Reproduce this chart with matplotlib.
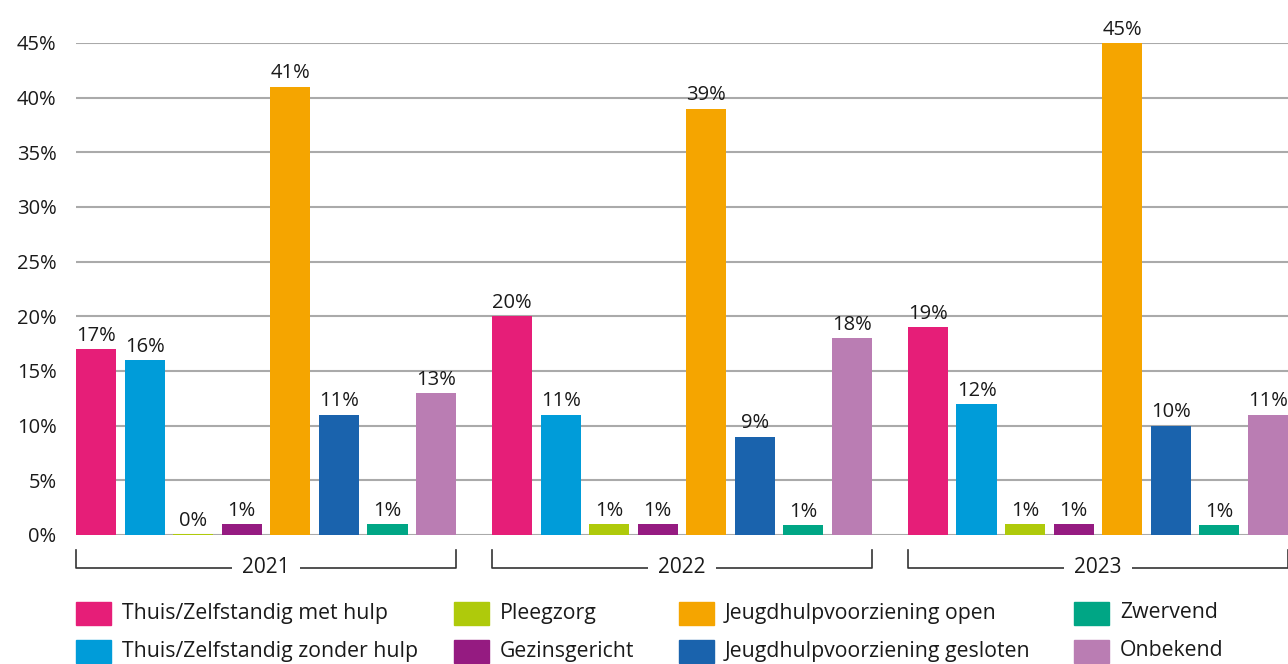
import matplotlib.pyplot as plt
from matplotlib.patches import Rectangle

plt.rcParams['font.family'] = ['Open Sans', 'DejaVu Sans']

years = ['2021', '2022', '2023']
categories = ['Thuis/Zelfstandig met hulp', 'Thuis/Zelfstandig zonder hulp', 'Pleegzorg',
              'Gezinsgericht', 'Jeugdhulpvoorziening open', 'Jeugdhulpvoorziening gesloten',
              'Zwervend', 'Onbekend']
colors = ['#E61E78', '#009CD9', '#AFCA0B', '#951B81', '#F5A500', '#1A63AD', '#00A685', '#BA7DB3']
values = {
    '2021': [17, 16, 0.1, 1, 41, 11, 1, 13],
    '2022': [20, 11, 1, 1, 39, 9, 0.9, 18],
    '2023': [19, 12, 1, 1, 45, 10, 0.9, 11],
}
yticks = [0, 5, 10, 15, 20, 25, 30, 35, 40, 45]

txt = '#1a1a1a'
fig = plt.figure(figsize=(12.88, 6.64), dpi=100)
ax = fig.add_axes([76 / 1288, 1 - 535 / 664, 1 - 76 / 1288, (535 - 43) / 664])

group_step = 8.57
bw = 0.83
for g, yr in enumerate(years):
    xs = [g * group_step + i for i in range(len(categories))]
    ax.bar(xs, values[yr], width=bw, color=colors, zorder=3)
    for x, v in zip(xs, values[yr]):
        ax.text(x, v + 0.3, f'{round(v)}%', ha='center', va='bottom', fontsize=14.5, color=txt)
    # bracket
    x0 = xs[0] - bw / 2
    x1 = xs[-1] + bw / 2
    ax.plot([x0, x0, x1, x1], [-1.4, -3.0, -3.0, -1.4], color='#333333', lw=1.2, clip_on=False)
    ax.text((x0 + x1) / 2, -3.0, yr, ha='center', va='center', fontsize=15, color=txt,
            bbox=dict(facecolor='white', edgecolor='none', pad=7))

ax.set_xlim(-bw / 2, 2 * group_step + 7 + bw / 2)
ax.set_ylim(0, 45)
ax.set_yticks(yticks)
ax.set_yticklabels([f'{t}%' for t in yticks], fontsize=14.5, color=txt)
ax.tick_params(axis='y', length=0, pad=14)
ax.set_xticks([])
ax.grid(axis='y', color='#aaaaaa', lw=1.5, zorder=0)
for s in ax.spines.values():
    s.set_visible(False)

# legend, column-major, 2 rows
col_x = [76, 454, 679, 1074]
row_y = [613, 651]
for k, (name, c) in enumerate(zip(categories, colors)):
    cx = col_x[k // 2]
    cy = row_y[k % 2]
    fig.patches.append(Rectangle((cx / 1288, 1 - (cy + 11.5) / 664), 35 / 1288, 23 / 664,
                                 transform=fig.transFigure, color=c))
    fig.text((cx + 46) / 1288, 1 - cy / 664, name, ha='left', va='center', fontsize=15.3, color=txt)

fig.savefig('out.png', dpi=100)
